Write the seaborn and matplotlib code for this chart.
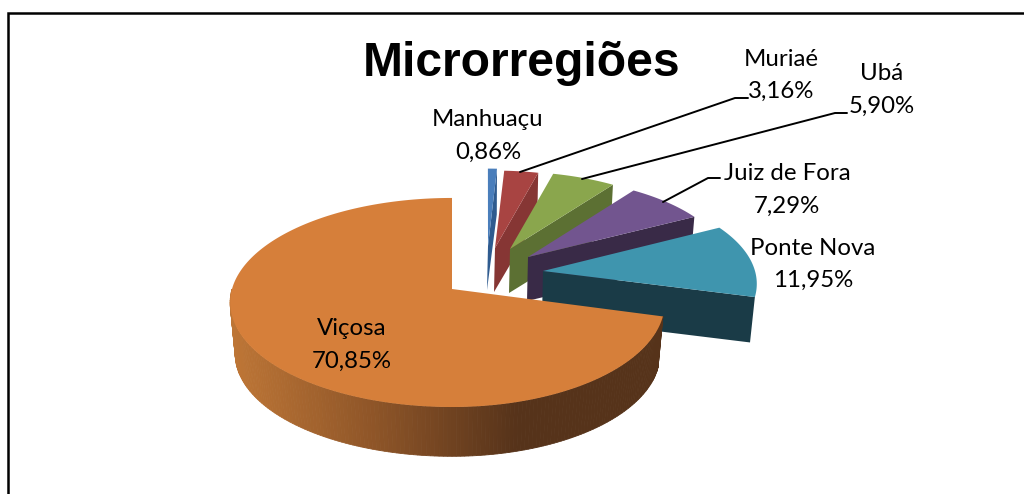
import matplotlib
matplotlib.use('Agg')
import matplotlib.pyplot as plt
import numpy as np
import seaborn as sns

regioes = ['Viçosa', 'Ponte Nova', 'Juiz de Fora', 'Ubá', 'Muriaé', 'Manhuaçu']
valores = [70.85, 11.95, 7.29, 5.90, 3.16, 0.86]
rotulos = ['70,85%', '11,95%', '7,29%', '5,90%', '3,16%', '0,86%']

cores = ['#D67F3A', '#3F95AE', '#72558F', '#8AA64D', '#A84442', '#4A7EBB']
cores_lado = ['#56331A', '#1A3B47', '#392A47', '#5C7033', '#863634', '#2F5B8F']

# pixel layout of each exploded slice: apex x, apex y, radius right, radius left, height scale, depth
geo = [
    (452, 289, 211, 220, 1.00, 52),
    (543, 271, 212, 212, 0.95, 46),
    (528, 257, 200, 200, 0.88, 44),
    (510, 249, 195, 195, 0.85, 44),
    (495, 248, 195, 195, 0.85, 44),
    (488, 246, 190, 190, 0.85, 44),
]

# label centre x, name y, value y
pos_rotulos = [
    (352, 328, 361),
    (813, 248, 280),
    (787, 173, 206),
    (882, 73, 106),
    (781, 59, 91),
    (488, 119, 152),
]
guias = {
    'Muriaé': ([520, 735, 748], [172, 98, 98]),
    'Ubá': ([582, 835, 847], [179, 113, 113]),
    'Juiz de Fora': ([663, 708, 720], [202, 178, 178]),
}

sns.set_theme(style='white')
plt.rcParams['font.family'] = ['Lato', 'DejaVu Sans']

K = 102.8
P = 0.129
ENCOLHE = 0.977


def proj(theta, g, fundo=False):
    # perspective of the tilted disc, lower face is a bit smaller and shifted down
    ax0, ay0, rd, re, s, d = g
    t = np.radians(theta)
    u, v = np.cos(t), np.sin(t)
    den = 1 + P * v
    f = ENCOLHE if fundo else 1.0
    x = ax0 + f * np.where(u < 0, re, rd) * u / den
    y = ay0 - f * s * K * v / den
    if fundo:
        y = y + d
    return x, y


fig = plt.figure(figsize=(10.24, 4.94), dpi=100)
ax = fig.add_axes([0, 0, 1, 1])
ax.set_xlim(0, 1024)
ax.set_ylim(494, 0)
ax.axis('off')

# slice angles come from the values, Viçosa starts at 12 o'clock going counter-clockwise
fim = 90 + np.cumsum(valores) * 3.6
inicio = np.r_[90, fim[:-1]]

grad = sns.blend_palette(['#BE7636', '#8E5528', '#56331A', '#56331A'], n_colors=256)

# back slices first
for i in reversed(range(len(valores))):
    g = geo[i]
    th = np.linspace(inicio[i], fim[i], 200)
    xt, yt = proj(th, g)
    xb, yb = proj(th, g, True)
    ax0, ay0 = g[0], g[1]
    if i == 0:
        # rim with left to right gradient
        tf = np.arange(180, fim[i], 1.0)
        tf = np.r_[tf, fim[i]]
        for a, b in zip(tf[:-1], tf[1:]):
            x1, y1 = proj(np.array([a, b]), g)
            x2, y2 = proj(np.array([b, a]), g, True)
            c = grad[int(np.clip((x1.mean() - 230) / (660 - 230), 0, 1) * 255)]
            ax.fill(np.r_[x1, x2], np.r_[y1, y2], color=c, lw=0.6)
    else:
        # cut face on the start side
        x1, y1 = proj(inicio[i], g)
        x2, y2 = proj(inicio[i], g, True)
        ax.fill([ax0, x1, x2, ax0 - 1], [ay0, y1, y2, ay0 + g[5]],
                color=cores_lado[i], lw=0)
        baixo = th < 180
        ax.fill(np.r_[xt[baixo], xb[baixo][::-1]], np.r_[yt[baixo], yb[baixo][::-1]],
                color=cores_lado[i], lw=0)
    ax.fill(np.r_[ax0, xt], np.r_[ay0, yt], color=cores[i], lw=0)

ax.text(522, 63, 'Microrregiões', family='Liberation Sans', weight='bold',
        fontsize=34.6, ha='center', va='center', color='black')

for nome, txt, (x, y1, y2) in zip(regioes, rotulos, pos_rotulos):
    ax.text(x, y1, nome, fontsize=17.3, ha='center', va='center', color='black')
    ax.text(x, y2, txt, fontsize=17.3, ha='center', va='center', color='black')

for nome, (gx, gy) in guias.items():
    ax.plot(gx, gy, color='black', lw=1.4)

# frame is cut by the image on the right and at the bottom
ax.plot([8, 8, 1024], [494, 13, 13], color='black', lw=1.8, solid_joinstyle='miter')

fig.savefig('out.png', dpi=100)
